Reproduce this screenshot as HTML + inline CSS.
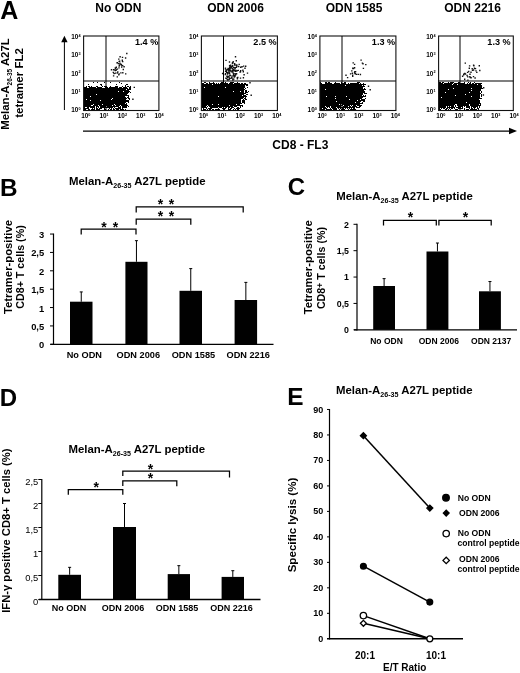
<!DOCTYPE html>
<html><head><meta charset="utf-8"><title>Figure</title>
<style>
html,body{margin:0;padding:0;background:#fff;}
body{width:520px;height:673px;overflow:hidden;font-family:'Liberation Sans', sans-serif;}
svg{display:block;will-change:transform;opacity:0.999;font-family:'Liberation Sans', sans-serif;fill:#000;}
</style></head><body>
<svg width="520" height="673" viewBox="0 0 520 673">
<rect x="0" y="0" width="520" height="673" fill="#fff"/>
<text x="0.2" y="18.9" font-size="25" font-weight="bold" text-anchor="start" >A</text>
<text x="118.3" y="12.3" font-size="12" font-weight="bold" text-anchor="middle" >No ODN</text>
<text x="235.5" y="12.3" font-size="12" font-weight="bold" text-anchor="middle" >ODN 2006</text>
<text x="354" y="12.3" font-size="12" font-weight="bold" text-anchor="middle" >ODN 1585</text>
<text x="472.6" y="12.3" font-size="12" font-weight="bold" text-anchor="middle" >ODN 2216</text>
<text transform="translate(9.3,84) rotate(-90)" font-size="11.4" font-weight="bold" text-anchor="middle">Melan-A<tspan font-size="6.5" dy="2.3">26-35</tspan><tspan dy="-2.3"> A27L</tspan></text>
<text transform="translate(23.2,83) rotate(-90)" font-size="11.5" font-weight="bold" text-anchor="middle">tetramer FL2</text>
<line x1="64.4" y1="110" x2="64.4" y2="41" stroke="#000" stroke-width="1" />
<polygon points="61.2,42.2 64.4,35.8 67.6,42.2" fill="#000"/>
<line x1="83" y1="131.2" x2="510" y2="131.2" stroke="#000" stroke-width="1.3" />
<polygon points="509,127.8 517,131 509,134.2" fill="#000"/>
<text x="272.3" y="149.3" font-size="12" font-weight="bold" text-anchor="start" >CD8 - FL3</text>
<path d="M93 82h1v1h-1zM97 82h1v1h-1zM104 82h1v1h-1zM110 82h1v1h-1zM119 82h1v1h-1zM121 83h1v1h-1zM88 84h1v1h-1zM100 84h2v1h-2zM116 84h1v1h-1zM126 84h2v1h-2zM101 85h1v1h-1zM125 85h1v1h-1zM86 86h1v1h-1zM88 86h2v1h-2zM91 86h1v1h-1zM96 86h2v1h-2zM102 86h1v1h-1zM104 86h3v1h-3zM110 86h1v1h-1zM115 86h3v1h-3zM122 86h1v1h-1zM125 86h1v1h-1zM127 86h2v1h-2zM130 86h1v1h-1zM84 87h3v1h-3zM89 87h7v1h-7zM97 87h5v1h-5zM105 87h3v1h-3zM109 87h9v1h-9zM119 87h3v1h-3zM123 87h4v1h-4zM129 87h2v1h-2zM84 88h44v1h-44zM129 88h2v1h-2zM84 89h42v1h-42zM127 89h4v1h-4zM84 90h45v1h-45zM84 91h34v1h-34zM119 91h4v1h-4zM124 91h6v1h-6zM84 92h45v1h-45zM130 92h1v1h-1zM84 93h44v1h-44zM84 94h12v1h-12zM97 94h30v1h-30zM84 95h45v1h-45zM84 96h6v1h-6zM91 96h34v1h-34zM128 96h1v1h-1zM84 97h42v1h-42zM127 97h2v1h-2zM84 98h28v1h-28zM113 98h14v1h-14zM128 98h2v1h-2zM84 99h2v1h-2zM87 99h24v1h-24zM112 99h14v1h-14zM129 99h1v1h-1zM84 100h6v1h-6zM91 100h9v1h-9zM101 100h28v1h-28zM84 101h45v1h-45zM84 102h42v1h-42zM128 102h1v1h-1zM84 103h41v1h-41zM126 103h1v1h-1zM84 104h9v1h-9zM94 104h8v1h-8zM103 104h11v1h-11zM115 104h12v1h-12zM84 105h7v1h-7zM93 105h5v1h-5zM99 105h13v1h-13zM113 105h2v1h-2zM116 105h4v1h-4zM121 105h7v1h-7zM84 106h11v1h-11zM96 106h3v1h-3zM100 106h6v1h-6zM107 106h12v1h-12zM120 106h1v1h-1zM122 106h5v1h-5zM128 106h1v1h-1zM84 107h1v1h-1zM87 107h2v1h-2zM90 107h5v1h-5zM96 107h1v1h-1zM98 107h1v1h-1zM100 107h13v1h-13zM114 107h1v1h-1zM118 107h3v1h-3zM122 107h5v1h-5zM84 108h5v1h-5zM92 108h1v1h-1zM94 108h1v1h-1zM96 108h2v1h-2zM99 108h3v1h-3zM104 108h1v1h-1zM109 108h1v1h-1zM111 108h1v1h-1zM113 108h1v1h-1zM115 108h6v1h-6zM122 108h1v1h-1zM84 109h2v1h-2zM88 109h2v1h-2zM91 109h4v1h-4zM96 109h4v1h-4zM104 109h2v1h-2zM108 109h1v1h-1zM110 109h2v1h-2zM113 109h2v1h-2zM116 109h3v1h-3zM120 109h4v1h-4zM125 109h1v1h-1z" fill="#000" shape-rendering="crispEdges"/>
<path d="M132.2 98.6h1.4v1.4h-1.4zM133.6 86.7h1.4v1.4h-1.4zM113.3 72.9h1.4v1.4h-1.4zM116.8 62.0h1.4v1.4h-1.4zM119.2 62.4h1.4v1.4h-1.4zM120.6 63.8h1.4v1.4h-1.4zM116.7 68.4h1.4v1.4h-1.4zM121.0 66.4h1.4v1.4h-1.4zM126.1 52.8h1.4v1.4h-1.4zM125.0 73.2h1.4v1.4h-1.4zM115.6 66.6h1.4v1.4h-1.4zM118.5 65.3h1.4v1.4h-1.4zM118.8 64.6h1.4v1.4h-1.4zM123.4 66.1h1.4v1.4h-1.4zM121.8 56.7h1.4v1.4h-1.4zM124.9 57.3h1.4v1.4h-1.4zM121.6 59.4h1.4v1.4h-1.4zM122.0 64.9h1.4v1.4h-1.4zM117.1 71.3h1.4v1.4h-1.4zM120.2 72.2h1.4v1.4h-1.4zM121.2 64.8h1.4v1.4h-1.4zM114.9 67.8h1.4v1.4h-1.4zM118.5 60.7h1.4v1.4h-1.4zM118.3 67.2h1.4v1.4h-1.4zM119.5 63.4h1.4v1.4h-1.4zM112.6 71.7h1.4v1.4h-1.4zM119.0 60.4h1.4v1.4h-1.4zM114.6 67.3h1.4v1.4h-1.4zM122.0 60.9h1.4v1.4h-1.4zM110.8 69.0h1.4v1.4h-1.4zM119.4 56.1h1.4v1.4h-1.4zM114.6 72.4h1.4v1.4h-1.4zM116.5 72.3h1.4v1.4h-1.4zM112.9 69.0h1.4v1.4h-1.4zM116.3 62.2h1.4v1.4h-1.4zM116.6 76.2h1.4v1.4h-1.4zM113.3 69.0h1.4v1.4h-1.4zM112.9 75.2h1.4v1.4h-1.4zM115.6 69.3h1.4v1.4h-1.4zM122.6 68.8h1.4v1.4h-1.4zM121.6 60.2h1.4v1.4h-1.4zM117.7 62.9h1.4v1.4h-1.4zM118.1 74.0h1.4v1.4h-1.4zM118.1 58.4h1.4v1.4h-1.4zM114.6 69.8h1.4v1.4h-1.4zM118.4 73.3h1.4v1.4h-1.4zM122.1 72.0h1.4v1.4h-1.4z" fill="#111"/>
<rect x="83.6" y="36" width="75.3" height="74.5" fill="none" stroke="#111" stroke-width="1.1"/>
<line x1="106" y1="36" x2="106" y2="110.5" stroke="#000" stroke-width="1.0" />
<line x1="83.6" y1="81.0" x2="158.89999999999998" y2="81.0" stroke="#000" stroke-width="1.05" />
<text x="158.29999999999998" y="45" font-size="9.1" font-weight="bold" text-anchor="end" >1.4 %</text>
<text x="71.3" y="112.1" font-size="6.4" font-weight="bold">10<tspan font-size="3.8" dy="-2.3">0</tspan></text>
<text x="81.2" y="118.4" font-size="6.4" font-weight="bold">10<tspan font-size="3.8" dy="-2.3">0</tspan></text>
<text x="71.3" y="93.8" font-size="6.4" font-weight="bold">10<tspan font-size="3.8" dy="-2.3">1</tspan></text>
<text x="99.5" y="118.4" font-size="6.4" font-weight="bold">10<tspan font-size="3.8" dy="-2.3">1</tspan></text>
<text x="71.3" y="75.5" font-size="6.4" font-weight="bold">10<tspan font-size="3.8" dy="-2.3">2</tspan></text>
<text x="117.8" y="118.4" font-size="6.4" font-weight="bold">10<tspan font-size="3.8" dy="-2.3">2</tspan></text>
<text x="71.3" y="57.2" font-size="6.4" font-weight="bold">10<tspan font-size="3.8" dy="-2.3">3</tspan></text>
<text x="136.1" y="118.4" font-size="6.4" font-weight="bold">10<tspan font-size="3.8" dy="-2.3">3</tspan></text>
<text x="71.3" y="38.9" font-size="6.4" font-weight="bold">10<tspan font-size="3.8" dy="-2.3">4</tspan></text>
<text x="154.4" y="118.4" font-size="6.4" font-weight="bold">10<tspan font-size="3.8" dy="-2.3">4</tspan></text>
<path d="M204 82h2v1h-2zM209 82h1v1h-1zM213 82h1v1h-1zM221 82h3v1h-3zM225 82h1v1h-1zM230 82h4v1h-4zM237 82h1v1h-1zM202 83h2v1h-2zM206 83h2v1h-2zM209 83h6v1h-6zM216 83h1v1h-1zM218 83h1v1h-1zM220 83h8v1h-8zM229 83h4v1h-4zM234 83h6v1h-6zM241 83h2v1h-2zM244 83h2v1h-2zM202 84h10v1h-10zM213 84h35v1h-35zM202 85h43v1h-43zM246 85h2v1h-2zM202 86h43v1h-43zM202 87h2v1h-2zM205 87h20v1h-20zM226 87h19v1h-19zM247 87h1v1h-1zM202 88h42v1h-42zM245 88h1v1h-1zM202 89h43v1h-43zM202 90h42v1h-42zM245 90h2v1h-2zM202 91h21v1h-21zM224 91h9v1h-9zM234 91h6v1h-6zM241 91h3v1h-3zM245 91h2v1h-2zM248 91h1v1h-1zM202 92h42v1h-42zM245 92h3v1h-3zM202 93h44v1h-44zM202 94h42v1h-42zM246 94h2v1h-2zM202 95h40v1h-40zM243 95h3v1h-3zM202 96h16v1h-16zM219 96h28v1h-28zM202 97h42v1h-42zM245 97h1v1h-1zM202 98h21v1h-21zM224 98h19v1h-19zM244 98h2v1h-2zM202 99h39v1h-39zM243 99h1v1h-1zM245 99h2v1h-2zM202 100h39v1h-39zM242 100h3v1h-3zM202 101h39v1h-39zM242 101h3v1h-3zM202 102h39v1h-39zM242 102h3v1h-3zM202 103h40v1h-40zM244 103h1v1h-1zM202 104h10v1h-10zM213 104h5v1h-5zM219 104h17v1h-17zM237 104h3v1h-3zM202 105h5v1h-5zM208 105h21v1h-21zM230 105h13v1h-13zM202 106h4v1h-4zM207 106h1v1h-1zM209 106h24v1h-24zM234 106h3v1h-3zM240 106h1v1h-1zM242 106h1v1h-1zM202 107h5v1h-5zM210 107h8v1h-8zM219 107h3v1h-3zM225 107h2v1h-2zM228 107h2v1h-2zM231 107h3v1h-3zM237 107h2v1h-2zM240 107h1v1h-1zM203 108h1v1h-1zM206 108h1v1h-1zM208 108h4v1h-4zM218 108h1v1h-1zM222 108h1v1h-1zM224 108h2v1h-2zM228 108h1v1h-1zM230 108h2v1h-2zM234 108h1v1h-1zM236 108h4v1h-4zM203 109h3v1h-3zM207 109h1v1h-1zM209 109h2v1h-2zM212 109h2v1h-2zM215 109h5v1h-5zM224 109h1v1h-1zM228 109h3v1h-3zM233 109h1v1h-1zM235 109h1v1h-1zM237 109h2v1h-2z" fill="#000" shape-rendering="crispEdges"/>
<path d="M249.3 82.1h1.4v1.4h-1.4zM250.5 94.6h1.4v1.4h-1.4zM225.8 70.9h1.4v1.4h-1.4zM226.8 78.5h1.4v1.4h-1.4zM231.7 65.9h1.4v1.4h-1.4zM233.0 66.7h1.4v1.4h-1.4zM228.6 72.3h1.4v1.4h-1.4zM231.7 67.7h1.4v1.4h-1.4zM229.7 65.9h1.4v1.4h-1.4zM230.5 65.6h1.4v1.4h-1.4zM238.5 63.7h1.4v1.4h-1.4zM243.4 74.0h1.4v1.4h-1.4zM228.7 68.1h1.4v1.4h-1.4zM231.0 76.9h1.4v1.4h-1.4zM227.9 69.4h1.4v1.4h-1.4zM228.2 76.1h1.4v1.4h-1.4zM227.2 76.0h1.4v1.4h-1.4zM233.2 75.0h1.4v1.4h-1.4zM239.8 77.4h1.4v1.4h-1.4zM236.2 65.7h1.4v1.4h-1.4zM225.7 69.2h1.4v1.4h-1.4zM233.1 78.4h1.4v1.4h-1.4zM228.8 61.3h1.4v1.4h-1.4zM234.1 63.6h1.4v1.4h-1.4zM228.9 77.6h1.4v1.4h-1.4zM230.2 67.2h1.4v1.4h-1.4zM231.4 69.7h1.4v1.4h-1.4zM228.8 67.9h1.4v1.4h-1.4zM235.6 60.1h1.4v1.4h-1.4zM232.2 62.1h1.4v1.4h-1.4zM226.9 69.0h1.4v1.4h-1.4zM240.0 69.9h1.4v1.4h-1.4zM228.3 68.4h1.4v1.4h-1.4zM234.4 73.1h1.4v1.4h-1.4zM242.6 71.0h1.4v1.4h-1.4zM232.3 68.8h1.4v1.4h-1.4zM241.4 66.1h1.4v1.4h-1.4zM226.5 78.4h1.4v1.4h-1.4zM224.6 73.8h1.4v1.4h-1.4zM236.2 65.5h1.4v1.4h-1.4zM235.8 66.5h1.4v1.4h-1.4zM246.8 72.4h1.4v1.4h-1.4zM231.8 62.0h1.4v1.4h-1.4zM233.6 75.0h1.4v1.4h-1.4zM235.6 64.5h1.4v1.4h-1.4zM238.0 65.8h1.4v1.4h-1.4zM227.5 67.7h1.4v1.4h-1.4zM221.9 72.7h1.4v1.4h-1.4zM233.0 73.6h1.4v1.4h-1.4zM228.9 65.0h1.4v1.4h-1.4zM239.8 71.2h1.4v1.4h-1.4zM225.3 59.7h1.4v1.4h-1.4zM236.5 70.0h1.4v1.4h-1.4zM244.3 67.5h1.4v1.4h-1.4zM230.5 71.2h1.4v1.4h-1.4zM234.5 67.1h1.4v1.4h-1.4zM232.0 65.1h1.4v1.4h-1.4zM228.7 68.6h1.4v1.4h-1.4zM245.0 65.6h1.4v1.4h-1.4zM236.1 64.2h1.4v1.4h-1.4zM230.1 74.9h1.4v1.4h-1.4zM225.4 69.6h1.4v1.4h-1.4zM231.3 76.3h1.4v1.4h-1.4zM227.3 76.4h1.4v1.4h-1.4zM232.1 71.3h1.4v1.4h-1.4zM233.9 76.0h1.4v1.4h-1.4zM243.0 65.4h1.4v1.4h-1.4zM227.2 75.5h1.4v1.4h-1.4zM234.7 70.6h1.4v1.4h-1.4zM239.4 71.3h1.4v1.4h-1.4zM226.8 73.4h1.4v1.4h-1.4zM227.1 72.8h1.4v1.4h-1.4zM231.7 62.9h1.4v1.4h-1.4zM233.5 76.3h1.4v1.4h-1.4zM224.8 67.4h1.4v1.4h-1.4zM227.6 69.2h1.4v1.4h-1.4zM229.0 73.2h1.4v1.4h-1.4zM231.4 70.8h1.4v1.4h-1.4zM228.4 78.7h1.4v1.4h-1.4zM229.8 64.6h1.4v1.4h-1.4zM229.9 67.4h1.4v1.4h-1.4zM233.9 63.0h1.4v1.4h-1.4zM235.9 73.1h1.4v1.4h-1.4zM225.2 77.5h1.4v1.4h-1.4zM229.0 66.8h1.4v1.4h-1.4zM226.9 76.7h1.4v1.4h-1.4zM224.9 72.9h1.4v1.4h-1.4zM232.2 79.4h1.4v1.4h-1.4zM229.0 69.3h1.4v1.4h-1.4zM240.0 66.6h1.4v1.4h-1.4zM232.4 74.8h1.4v1.4h-1.4zM233.1 68.4h1.4v1.4h-1.4zM234.4 70.3h1.4v1.4h-1.4zM228.3 71.2h1.4v1.4h-1.4zM235.0 74.2h1.4v1.4h-1.4zM221.9 72.8h1.4v1.4h-1.4zM235.0 69.4h1.4v1.4h-1.4zM229.1 74.9h1.4v1.4h-1.4zM228.2 70.6h1.4v1.4h-1.4zM226.9 71.9h1.4v1.4h-1.4zM235.2 70.7h1.4v1.4h-1.4zM225.7 69.8h1.4v1.4h-1.4zM227.2 79.4h1.4v1.4h-1.4zM229.7 74.7h1.4v1.4h-1.4zM242.2 69.6h1.4v1.4h-1.4zM237.6 69.7h1.4v1.4h-1.4zM232.6 72.7h1.4v1.4h-1.4zM232.4 70.2h1.4v1.4h-1.4zM230.4 77.7h1.4v1.4h-1.4zM234.8 56.1h1.4v1.4h-1.4zM242.7 77.0h1.4v1.4h-1.4zM234.4 67.5h1.4v1.4h-1.4zM228.8 78.2h1.4v1.4h-1.4zM230.9 71.2h1.4v1.4h-1.4zM234.4 75.4h1.4v1.4h-1.4zM236.6 77.0h1.4v1.4h-1.4zM229.7 70.1h1.4v1.4h-1.4zM232.1 78.3h1.4v1.4h-1.4zM224.7 68.1h1.4v1.4h-1.4zM232.5 61.1h1.4v1.4h-1.4zM236.7 78.2h1.4v1.4h-1.4zM226.2 75.6h1.4v1.4h-1.4zM225.5 77.6h1.4v1.4h-1.4zM225.9 71.6h1.4v1.4h-1.4zM226.8 68.7h1.4v1.4h-1.4zM224.9 70.7h1.4v1.4h-1.4zM230.6 66.8h1.4v1.4h-1.4zM233.7 69.6h1.4v1.4h-1.4zM233.7 74.9h1.4v1.4h-1.4zM229.3 68.6h1.4v1.4h-1.4zM237.1 76.8h1.4v1.4h-1.4zM234.0 64.4h1.4v1.4h-1.4z" fill="#111"/>
<rect x="201.4" y="36" width="76" height="74.5" fill="none" stroke="#111" stroke-width="1.1"/>
<line x1="223.5" y1="36" x2="223.5" y2="110.5" stroke="#000" stroke-width="1.0" />
<line x1="201.4" y1="81.0" x2="277.4" y2="81.0" stroke="#000" stroke-width="1.05" />
<text x="276.59999999999997" y="45" font-size="9.1" font-weight="bold" text-anchor="end" >2.5 %</text>
<text x="189.1" y="112.1" font-size="6.4" font-weight="bold">10<tspan font-size="3.8" dy="-2.3">0</tspan></text>
<text x="199.0" y="118.4" font-size="6.4" font-weight="bold">10<tspan font-size="3.8" dy="-2.3">0</tspan></text>
<text x="189.1" y="93.8" font-size="6.4" font-weight="bold">10<tspan font-size="3.8" dy="-2.3">1</tspan></text>
<text x="217.3" y="118.4" font-size="6.4" font-weight="bold">10<tspan font-size="3.8" dy="-2.3">1</tspan></text>
<text x="189.1" y="75.5" font-size="6.4" font-weight="bold">10<tspan font-size="3.8" dy="-2.3">2</tspan></text>
<text x="235.6" y="118.4" font-size="6.4" font-weight="bold">10<tspan font-size="3.8" dy="-2.3">2</tspan></text>
<text x="189.1" y="57.2" font-size="6.4" font-weight="bold">10<tspan font-size="3.8" dy="-2.3">3</tspan></text>
<text x="253.9" y="118.4" font-size="6.4" font-weight="bold">10<tspan font-size="3.8" dy="-2.3">3</tspan></text>
<text x="189.1" y="38.9" font-size="6.4" font-weight="bold">10<tspan font-size="3.8" dy="-2.3">4</tspan></text>
<text x="272.2" y="118.4" font-size="6.4" font-weight="bold">10<tspan font-size="3.8" dy="-2.3">4</tspan></text>
<path d="M320 82h1v1h-1zM325 82h2v1h-2zM328 82h2v1h-2zM335 82h1v1h-1zM341 82h1v1h-1zM344 82h2v1h-2zM357 82h3v1h-3zM320 83h2v1h-2zM325 83h7v1h-7zM334 83h6v1h-6zM341 83h5v1h-5zM348 83h1v1h-1zM350 83h9v1h-9zM360 83h1v1h-1zM363 83h1v1h-1zM320 84h46v1h-46zM320 85h25v1h-25zM346 85h16v1h-16zM363 85h1v1h-1zM320 86h45v1h-45zM320 87h43v1h-43zM320 88h43v1h-43zM364 88h1v1h-1zM320 89h5v1h-5zM326 89h40v1h-40zM320 90h44v1h-44zM320 91h45v1h-45zM320 92h45v1h-45zM320 93h43v1h-43zM364 93h3v1h-3zM320 94h43v1h-43zM320 95h42v1h-42zM363 95h1v1h-1zM365 95h1v1h-1zM320 96h6v1h-6zM327 96h8v1h-8zM336 96h10v1h-10zM347 96h19v1h-19zM320 97h43v1h-43zM320 98h15v1h-15zM336 98h26v1h-26zM365 98h1v1h-1zM320 99h29v1h-29zM350 99h10v1h-10zM361 99h4v1h-4zM320 100h37v1h-37zM358 100h7v1h-7zM320 101h16v1h-16zM337 101h24v1h-24zM363 101h2v1h-2zM320 102h35v1h-35zM356 102h4v1h-4zM362 102h1v1h-1zM320 103h43v1h-43zM320 104h19v1h-19zM340 104h1v1h-1zM342 104h18v1h-18zM320 105h23v1h-23zM344 105h6v1h-6zM351 105h1v1h-1zM353 105h3v1h-3zM357 105h5v1h-5zM320 106h5v1h-5zM326 106h4v1h-4zM331 106h10v1h-10zM343 106h5v1h-5zM349 106h2v1h-2zM352 106h5v1h-5zM359 106h2v1h-2zM320 107h6v1h-6zM327 107h1v1h-1zM329 107h1v1h-1zM331 107h5v1h-5zM337 107h18v1h-18zM356 107h4v1h-4zM320 108h2v1h-2zM323 108h4v1h-4zM330 108h1v1h-1zM332 108h5v1h-5zM338 108h1v1h-1zM340 108h1v1h-1zM342 108h2v1h-2zM345 108h1v1h-1zM347 108h1v1h-1zM349 108h1v1h-1zM351 108h1v1h-1zM353 108h2v1h-2zM320 109h5v1h-5zM326 109h6v1h-6zM333 109h4v1h-4zM339 109h1v1h-1zM341 109h4v1h-4zM348 109h1v1h-1zM350 109h6v1h-6z" fill="#000" shape-rendering="crispEdges"/>
<path d="M367.8 85.6h1.4v1.4h-1.4zM369.5 89.1h1.4v1.4h-1.4zM354.7 73.1h1.4v1.4h-1.4zM352.7 67.7h1.4v1.4h-1.4zM360.4 59.4h1.4v1.4h-1.4zM354.4 72.9h1.4v1.4h-1.4zM353.9 67.1h1.4v1.4h-1.4zM361.7 62.4h1.4v1.4h-1.4zM354.9 70.9h1.4v1.4h-1.4zM352.9 67.8h1.4v1.4h-1.4zM352.1 67.5h1.4v1.4h-1.4zM353.9 72.1h1.4v1.4h-1.4zM346.9 76.9h1.4v1.4h-1.4zM352.0 75.6h1.4v1.4h-1.4zM357.6 73.7h1.4v1.4h-1.4zM353.9 63.7h1.4v1.4h-1.4zM351.1 70.2h1.4v1.4h-1.4zM354.7 71.0h1.4v1.4h-1.4zM365.1 63.9h1.4v1.4h-1.4zM352.5 62.2h1.4v1.4h-1.4zM349.9 73.2h1.4v1.4h-1.4zM351.7 72.5h1.4v1.4h-1.4zM352.2 67.9h1.4v1.4h-1.4zM359.7 73.8h1.4v1.4h-1.4zM362.7 67.7h1.4v1.4h-1.4zM355.8 73.7h1.4v1.4h-1.4zM362.3 63.0h1.4v1.4h-1.4zM352.0 74.6h1.4v1.4h-1.4zM345.3 74.6h1.4v1.4h-1.4zM354.1 71.0h1.4v1.4h-1.4z" fill="#111"/>
<rect x="319.9" y="36" width="76" height="74.5" fill="none" stroke="#111" stroke-width="1.1"/>
<line x1="342" y1="36" x2="342" y2="110.5" stroke="#000" stroke-width="1.0" />
<line x1="319.9" y1="81.0" x2="395.9" y2="81.0" stroke="#000" stroke-width="1.05" />
<text x="395.09999999999997" y="45" font-size="9.1" font-weight="bold" text-anchor="end" >1.3 %</text>
<text x="307.59999999999997" y="112.1" font-size="6.4" font-weight="bold">10<tspan font-size="3.8" dy="-2.3">0</tspan></text>
<text x="317.5" y="118.4" font-size="6.4" font-weight="bold">10<tspan font-size="3.8" dy="-2.3">0</tspan></text>
<text x="307.59999999999997" y="93.8" font-size="6.4" font-weight="bold">10<tspan font-size="3.8" dy="-2.3">1</tspan></text>
<text x="335.8" y="118.4" font-size="6.4" font-weight="bold">10<tspan font-size="3.8" dy="-2.3">1</tspan></text>
<text x="307.59999999999997" y="75.5" font-size="6.4" font-weight="bold">10<tspan font-size="3.8" dy="-2.3">2</tspan></text>
<text x="354.1" y="118.4" font-size="6.4" font-weight="bold">10<tspan font-size="3.8" dy="-2.3">2</tspan></text>
<text x="307.59999999999997" y="57.2" font-size="6.4" font-weight="bold">10<tspan font-size="3.8" dy="-2.3">3</tspan></text>
<text x="372.4" y="118.4" font-size="6.4" font-weight="bold">10<tspan font-size="3.8" dy="-2.3">3</tspan></text>
<text x="307.59999999999997" y="38.9" font-size="6.4" font-weight="bold">10<tspan font-size="3.8" dy="-2.3">4</tspan></text>
<text x="390.7" y="118.4" font-size="6.4" font-weight="bold">10<tspan font-size="3.8" dy="-2.3">4</tspan></text>
<path d="M439 82h2v1h-2zM442 82h2v1h-2zM448 82h1v1h-1zM450 82h4v1h-4zM458 82h2v1h-2zM464 82h1v1h-1zM468 82h1v1h-1zM470 82h1v1h-1zM474 82h1v1h-1zM439 83h4v1h-4zM444 83h9v1h-9zM454 83h11v1h-11zM467 83h1v1h-1zM469 83h2v1h-2zM472 83h2v1h-2zM475 83h7v1h-7zM439 84h13v1h-13zM453 84h4v1h-4zM458 84h19v1h-19zM478 84h3v1h-3zM439 85h43v1h-43zM439 86h43v1h-43zM439 87h43v1h-43zM439 88h14v1h-14zM454 88h17v1h-17zM472 88h11v1h-11zM439 89h9v1h-9zM449 89h32v1h-32zM439 90h32v1h-32zM472 90h9v1h-9zM439 91h41v1h-41zM481 91h1v1h-1zM439 92h6v1h-6zM446 92h23v1h-23zM470 92h10v1h-10zM481 92h1v1h-1zM439 93h42v1h-42zM439 94h26v1h-26zM466 94h14v1h-14zM481 94h1v1h-1zM439 95h16v1h-16zM456 95h24v1h-24zM481 95h1v1h-1zM439 96h32v1h-32zM472 96h8v1h-8zM481 96h1v1h-1zM439 97h2v1h-2zM442 97h38v1h-38zM439 98h43v1h-43zM439 99h40v1h-40zM439 100h41v1h-41zM439 101h41v1h-41zM439 102h27v1h-27zM467 102h13v1h-13zM439 103h42v1h-42zM439 104h16v1h-16zM457 104h12v1h-12zM470 104h9v1h-9zM480 104h1v1h-1zM439 105h15v1h-15zM455 105h1v1h-1zM457 105h12v1h-12zM470 105h11v1h-11zM439 106h7v1h-7zM447 106h1v1h-1zM449 106h1v1h-1zM451 106h3v1h-3zM455 106h1v1h-1zM458 106h5v1h-5zM464 106h1v1h-1zM466 106h4v1h-4zM471 106h7v1h-7zM479 106h1v1h-1zM439 107h7v1h-7zM447 107h8v1h-8zM456 107h5v1h-5zM462 107h1v1h-1zM466 107h4v1h-4zM471 107h1v1h-1zM473 107h3v1h-3zM477 107h1v1h-1zM479 107h1v1h-1zM439 108h1v1h-1zM441 108h1v1h-1zM443 108h2v1h-2zM446 108h2v1h-2zM449 108h1v1h-1zM451 108h2v1h-2zM454 108h1v1h-1zM458 108h5v1h-5zM464 108h1v1h-1zM469 108h1v1h-1zM471 108h2v1h-2zM474 108h1v1h-1zM477 108h2v1h-2zM439 109h2v1h-2zM445 109h2v1h-2zM448 109h1v1h-1zM450 109h1v1h-1zM455 109h3v1h-3zM464 109h1v1h-1zM466 109h3v1h-3zM470 109h7v1h-7zM478 109h1v1h-1z" fill="#000" shape-rendering="crispEdges"/>
<path d="M482.7 94.3h1.4v1.4h-1.4zM483.0 87.0h1.4v1.4h-1.4zM478.6 65.1h1.4v1.4h-1.4zM474.4 77.3h1.4v1.4h-1.4zM464.1 72.8h1.4v1.4h-1.4zM469.1 76.0h1.4v1.4h-1.4zM464.0 78.6h1.4v1.4h-1.4zM463.5 73.1h1.4v1.4h-1.4zM470.3 71.6h1.4v1.4h-1.4zM479.1 69.8h1.4v1.4h-1.4zM476.1 71.7h1.4v1.4h-1.4zM469.3 73.5h1.4v1.4h-1.4zM471.8 69.6h1.4v1.4h-1.4zM466.9 71.7h1.4v1.4h-1.4zM467.1 76.2h1.4v1.4h-1.4zM468.0 70.8h1.4v1.4h-1.4zM470.4 77.0h1.4v1.4h-1.4zM464.8 73.3h1.4v1.4h-1.4zM461.9 75.5h1.4v1.4h-1.4zM468.6 67.5h1.4v1.4h-1.4zM472.9 69.3h1.4v1.4h-1.4zM463.0 74.0h1.4v1.4h-1.4zM469.6 76.8h1.4v1.4h-1.4zM475.3 70.2h1.4v1.4h-1.4zM472.8 75.9h1.4v1.4h-1.4zM471.5 67.9h1.4v1.4h-1.4zM474.8 67.9h1.4v1.4h-1.4zM464.6 62.4h1.4v1.4h-1.4zM473.8 67.6h1.4v1.4h-1.4zM467.2 79.4h1.4v1.4h-1.4zM466.4 74.8h1.4v1.4h-1.4zM472.9 64.6h1.4v1.4h-1.4zM468.9 65.2h1.4v1.4h-1.4zM473.2 65.0h1.4v1.4h-1.4z" fill="#111"/>
<rect x="438.6" y="36" width="74.7" height="74.5" fill="none" stroke="#111" stroke-width="1.1"/>
<line x1="460" y1="36" x2="460" y2="110.5" stroke="#000" stroke-width="1.0" />
<line x1="438.6" y1="81.0" x2="513.3000000000001" y2="81.0" stroke="#000" stroke-width="1.05" />
<text x="510.6000000000001" y="45" font-size="9.1" font-weight="bold" text-anchor="end" >1.3 %</text>
<text x="426.3" y="112.1" font-size="6.4" font-weight="bold">10<tspan font-size="3.8" dy="-2.3">0</tspan></text>
<text x="436.2" y="118.4" font-size="6.4" font-weight="bold">10<tspan font-size="3.8" dy="-2.3">0</tspan></text>
<text x="426.3" y="93.8" font-size="6.4" font-weight="bold">10<tspan font-size="3.8" dy="-2.3">1</tspan></text>
<text x="454.5" y="118.4" font-size="6.4" font-weight="bold">10<tspan font-size="3.8" dy="-2.3">1</tspan></text>
<text x="426.3" y="75.5" font-size="6.4" font-weight="bold">10<tspan font-size="3.8" dy="-2.3">2</tspan></text>
<text x="472.8" y="118.4" font-size="6.4" font-weight="bold">10<tspan font-size="3.8" dy="-2.3">2</tspan></text>
<text x="426.3" y="57.2" font-size="6.4" font-weight="bold">10<tspan font-size="3.8" dy="-2.3">3</tspan></text>
<text x="491.1" y="118.4" font-size="6.4" font-weight="bold">10<tspan font-size="3.8" dy="-2.3">3</tspan></text>
<text x="426.3" y="38.9" font-size="6.4" font-weight="bold">10<tspan font-size="3.8" dy="-2.3">4</tspan></text>
<text x="509.4" y="118.4" font-size="6.4" font-weight="bold">10<tspan font-size="3.8" dy="-2.3">4</tspan></text>
<text x="0" y="195.5" font-size="24.3" font-weight="bold" text-anchor="start" >B</text>
<text x="69" y="184.8" font-size="11.4" font-weight="bold" text-anchor="start" >Melan-A<tspan font-size="7.1" dy="3.0">26-35</tspan><tspan dy="-3.0"> A27L peptide</tspan></text>
<text transform="translate(11.8,267) rotate(-90)" font-size="11.3" font-weight="bold" text-anchor="middle">Tetramer-positive</text>
<text transform="translate(24,267) rotate(-90)" font-size="10.7" font-weight="bold" text-anchor="middle">CD8+ T cells (%)</text>
<line x1="53.5" y1="233.55" x2="53.5" y2="344.90000000000003" stroke="#000" stroke-width="1.2" />
<line x1="50.5" y1="344.3" x2="273.5" y2="344.3" stroke="#000" stroke-width="1.3" />
<line x1="50.0" y1="344.3" x2="53.5" y2="344.3" stroke="#000" stroke-width="1" />
<text x="44.2" y="348.3" font-size="9.4" font-weight="bold" text-anchor="end" >0</text>
<line x1="50.0" y1="325.925" x2="53.5" y2="325.925" stroke="#000" stroke-width="1" />
<text x="44.2" y="329.9" font-size="9.4" font-weight="bold" text-anchor="end" >0,5</text>
<line x1="50.0" y1="307.55" x2="53.5" y2="307.55" stroke="#000" stroke-width="1" />
<text x="44.2" y="311.6" font-size="9.4" font-weight="bold" text-anchor="end" >1</text>
<line x1="50.0" y1="289.175" x2="53.5" y2="289.175" stroke="#000" stroke-width="1" />
<text x="44.2" y="293.2" font-size="9.4" font-weight="bold" text-anchor="end" >1,5</text>
<line x1="50.0" y1="270.8" x2="53.5" y2="270.8" stroke="#000" stroke-width="1" />
<text x="44.2" y="274.8" font-size="9.4" font-weight="bold" text-anchor="end" >2</text>
<line x1="50.0" y1="252.425" x2="53.5" y2="252.425" stroke="#000" stroke-width="1" />
<text x="44.2" y="256.4" font-size="9.4" font-weight="bold" text-anchor="end" >2,5</text>
<line x1="50.0" y1="234.05" x2="53.5" y2="234.05" stroke="#000" stroke-width="1" />
<text x="44.2" y="238.1" font-size="9.4" font-weight="bold" text-anchor="end" >3</text>
<rect x="70" y="301.7" width="22.5" height="42.6" fill="#000" stroke="none" stroke-width="1"/>
<line x1="81.25" y1="301.74350000000004" x2="81.25" y2="291.93125000000003" stroke="#000" stroke-width="1" />
<line x1="79.75" y1="291.93125000000003" x2="82.75" y2="291.93125000000003" stroke="#000" stroke-width="1" />
<rect x="125.4" y="261.8" width="22.099999999999994" height="82.5" fill="#000" stroke="none" stroke-width="1"/>
<line x1="136.45" y1="261.79625" x2="136.45" y2="240.66500000000002" stroke="#000" stroke-width="1" />
<line x1="134.95" y1="240.66500000000002" x2="137.95" y2="240.66500000000002" stroke="#000" stroke-width="1" />
<rect x="179.5" y="290.8" width="22.5" height="53.5" fill="#000" stroke="none" stroke-width="1"/>
<line x1="190.75" y1="290.82875" x2="190.75" y2="268.595" stroke="#000" stroke-width="1" />
<line x1="189.25" y1="268.595" x2="192.25" y2="268.595" stroke="#000" stroke-width="1" />
<rect x="234.6" y="300.0" width="22.50000000000003" height="44.3" fill="#000" stroke="none" stroke-width="1"/>
<line x1="245.85000000000002" y1="300.01625" x2="245.85000000000002" y2="282.37625" stroke="#000" stroke-width="1" />
<line x1="244.35000000000002" y1="282.37625" x2="247.35000000000002" y2="282.37625" stroke="#000" stroke-width="1" />
<text x="84.3" y="358.2" font-size="9.2" font-weight="bold" text-anchor="middle" >No ODN</text>
<text x="138.3" y="358.2" font-size="9.2" font-weight="bold" text-anchor="middle" >ODN 2006</text>
<text x="193.4" y="358.2" font-size="9.2" font-weight="bold" text-anchor="middle" >ODN 1585</text>
<text x="248.2" y="358.2" font-size="9.2" font-weight="bold" text-anchor="middle" >ODN 2216</text>
<polyline points="81.2,234.4 81.2,229.2 136,229.2 136,234.4" fill="none" stroke="#000" stroke-width="1.25"/>
<polyline points="136.2,224.8 136.2,219.1 190.8,219.1 190.8,224.8" fill="none" stroke="#000" stroke-width="1.25"/>
<polyline points="136.2,212.5 136.2,206.9 243.2,206.9 243.2,212.5" fill="none" stroke="#000" stroke-width="1.25"/>
<text x="104" y="232" font-size="14" font-weight="bold" text-anchor="middle" >*</text>
<text x="115.6" y="232" font-size="14" font-weight="bold" text-anchor="middle" >*</text>
<text x="160.4" y="209.2" font-size="14" font-weight="bold" text-anchor="middle" >*</text>
<text x="160.4" y="221.3" font-size="14" font-weight="bold" text-anchor="middle" >*</text>
<text x="171.5" y="209.2" font-size="14" font-weight="bold" text-anchor="middle" >*</text>
<text x="171.5" y="221.3" font-size="14" font-weight="bold" text-anchor="middle" >*</text>
<text x="287.8" y="194.6" font-size="24" font-weight="bold" text-anchor="start" >C</text>
<text x="336.3" y="199.6" font-size="11.4" font-weight="bold" text-anchor="start" >Melan-A<tspan font-size="7.1" dy="3.0">26-35</tspan><tspan dy="-3.0"> A27L peptide</tspan></text>
<text transform="translate(312.3,267.3) rotate(-90)" font-size="11.3" font-weight="bold" text-anchor="middle">Tetramer-positive</text>
<text transform="translate(325,268) rotate(-90)" font-size="10.7" font-weight="bold" text-anchor="middle">CD8<tspan font-size="8.5" dy="-2.5">+</tspan><tspan dy="2.5"> T cells (%)</tspan></text>
<line x1="357" y1="223.8" x2="357" y2="330.40000000000003" stroke="#000" stroke-width="1.2" />
<line x1="354" y1="329.8" x2="517" y2="329.8" stroke="#000" stroke-width="1.3" />
<line x1="353.5" y1="329.8" x2="357" y2="329.8" stroke="#000" stroke-width="1" />
<text x="349" y="333.0" font-size="8.8" font-weight="bold" text-anchor="end" >0</text>
<line x1="353.5" y1="303.425" x2="357" y2="303.425" stroke="#000" stroke-width="1" />
<text x="349" y="306.6" font-size="8.8" font-weight="bold" text-anchor="end" >0,5</text>
<line x1="353.5" y1="277.05" x2="357" y2="277.05" stroke="#000" stroke-width="1" />
<text x="349" y="280.2" font-size="8.8" font-weight="bold" text-anchor="end" >1</text>
<line x1="353.5" y1="250.675" x2="357" y2="250.675" stroke="#000" stroke-width="1" />
<text x="349" y="253.9" font-size="8.8" font-weight="bold" text-anchor="end" >1,5</text>
<line x1="353.5" y1="224.3" x2="357" y2="224.3" stroke="#000" stroke-width="1" />
<text x="349" y="227.5" font-size="8.8" font-weight="bold" text-anchor="end" >2</text>
<rect x="373.2" y="286.0" width="21.80000000000001" height="43.8" fill="#000" stroke="none" stroke-width="1"/>
<line x1="384.1" y1="286.01750000000004" x2="384.1" y2="278.6325" stroke="#000" stroke-width="1" />
<line x1="382.6" y1="278.6325" x2="385.6" y2="278.6325" stroke="#000" stroke-width="1" />
<rect x="426.5" y="251.5" width="21.899999999999977" height="78.3" fill="#000" stroke="none" stroke-width="1"/>
<line x1="437.45" y1="251.46625" x2="437.45" y2="243.02625" stroke="#000" stroke-width="1" />
<line x1="435.95" y1="243.02625" x2="438.95" y2="243.02625" stroke="#000" stroke-width="1" />
<rect x="479" y="291.3" width="21.899999999999977" height="38.5" fill="#000" stroke="none" stroke-width="1"/>
<line x1="489.95" y1="291.2925" x2="489.95" y2="281.53375" stroke="#000" stroke-width="1" />
<line x1="488.45" y1="281.53375" x2="491.45" y2="281.53375" stroke="#000" stroke-width="1" />
<text x="386.5" y="343.5" font-size="8.5" font-weight="bold" text-anchor="middle" >No ODN</text>
<text x="438.8" y="343.5" font-size="8.5" font-weight="bold" text-anchor="middle" >ODN 2006</text>
<text x="491.2" y="343.5" font-size="8.5" font-weight="bold" text-anchor="middle" >ODN 2137</text>
<polyline points="383.5,225.5 383.5,220.3 436.3,220.3 436.3,225.5" fill="none" stroke="#000" stroke-width="1.25"/>
<polyline points="438.9,225.5 438.9,220.3 491.2,220.3 491.2,225.5" fill="none" stroke="#000" stroke-width="1.25"/>
<text x="410.5" y="222" font-size="14" font-weight="bold" text-anchor="middle" >*</text>
<text x="465.4" y="222" font-size="14" font-weight="bold" text-anchor="middle" >*</text>
<text x="-0.3" y="406.4" font-size="24" font-weight="bold" text-anchor="start" >D</text>
<text x="68.5" y="452.6" font-size="11.4" font-weight="bold" text-anchor="start" >Melan-A<tspan font-size="7.1" dy="3.0">26-35</tspan><tspan dy="-3.0"> A27L peptide</tspan></text>
<text transform="translate(10.3,530.7) rotate(-90)" font-size="11.22" font-weight="bold" text-anchor="middle">IFN-γ positive CD8+ T cells (%)</text>
<line x1="41.8" y1="479.0" x2="41.8" y2="600.1" stroke="#000" stroke-width="1.2" />
<line x1="38.8" y1="599.5" x2="260.5" y2="599.5" stroke="#000" stroke-width="1.3" />
<line x1="38.3" y1="599.5" x2="41.8" y2="599.5" stroke="#000" stroke-width="1" />
<text x="38.3" y="604.8" font-size="9.4" font-weight="normal" text-anchor="end" >0</text>
<line x1="38.3" y1="575.5" x2="41.8" y2="575.5" stroke="#000" stroke-width="1" />
<text x="38.3" y="580.8" font-size="9.4" font-weight="normal" text-anchor="end" >0,5</text>
<line x1="38.3" y1="551.5" x2="41.8" y2="551.5" stroke="#000" stroke-width="1" />
<text x="38.3" y="556.8" font-size="9.4" font-weight="normal" text-anchor="end" >1</text>
<line x1="38.3" y1="527.5" x2="41.8" y2="527.5" stroke="#000" stroke-width="1" />
<text x="38.3" y="532.8" font-size="9.4" font-weight="normal" text-anchor="end" >1,5</text>
<line x1="38.3" y1="503.5" x2="41.8" y2="503.5" stroke="#000" stroke-width="1" />
<text x="38.3" y="508.8" font-size="9.4" font-weight="normal" text-anchor="end" >2</text>
<line x1="38.3" y1="479.5" x2="41.8" y2="479.5" stroke="#000" stroke-width="1" />
<text x="38.3" y="484.8" font-size="9.4" font-weight="normal" text-anchor="end" >2,5</text>
<rect x="58.3" y="574.8" width="22.700000000000003" height="24.7" fill="#000" stroke="none" stroke-width="1"/>
<line x1="69.65" y1="574.78" x2="69.65" y2="567.34" stroke="#000" stroke-width="1" />
<line x1="68.15" y1="567.34" x2="71.15" y2="567.34" stroke="#000" stroke-width="1" />
<rect x="113" y="527.0" width="23" height="72.5" fill="#000" stroke="none" stroke-width="1"/>
<line x1="124.5" y1="527.02" x2="124.5" y2="503.5" stroke="#000" stroke-width="1" />
<line x1="123.0" y1="503.5" x2="126.0" y2="503.5" stroke="#000" stroke-width="1" />
<rect x="167.7" y="574.1" width="22.30000000000001" height="25.4" fill="#000" stroke="none" stroke-width="1"/>
<line x1="178.85" y1="574.06" x2="178.85" y2="565.66" stroke="#000" stroke-width="1" />
<line x1="177.35" y1="565.66" x2="180.35" y2="565.66" stroke="#000" stroke-width="1" />
<rect x="221.6" y="576.9" width="22.400000000000006" height="22.6" fill="#000" stroke="none" stroke-width="1"/>
<line x1="232.8" y1="576.94" x2="232.8" y2="570.7" stroke="#000" stroke-width="1" />
<line x1="231.3" y1="570.7" x2="234.3" y2="570.7" stroke="#000" stroke-width="1" />
<text x="69" y="611" font-size="9" font-weight="bold" text-anchor="middle" >No ODN</text>
<text x="123" y="611" font-size="9" font-weight="bold" text-anchor="middle" >ODN 2006</text>
<text x="177" y="611" font-size="9" font-weight="bold" text-anchor="middle" >ODN 1585</text>
<text x="231.6" y="611" font-size="9" font-weight="bold" text-anchor="middle" >ODN 2216</text>
<polyline points="68.3,494.8 68.3,489.6 122.8,489.6 122.8,494.8" fill="none" stroke="#000" stroke-width="1.25"/>
<polyline points="122.8,486 122.8,480.8 176.8,480.8 176.8,486.2" fill="none" stroke="#000" stroke-width="1.25"/>
<polyline points="122.8,476 122.8,471 229.5,471 229.5,477.5" fill="none" stroke="#000" stroke-width="1.25"/>
<text x="96.3" y="491.7" font-size="14" font-weight="bold" text-anchor="middle" >*</text>
<text x="150.4" y="473.8" font-size="14" font-weight="bold" text-anchor="middle" >*</text>
<text x="150.4" y="483.2" font-size="14" font-weight="bold" text-anchor="middle" >*</text>
<text x="287.3" y="405" font-size="24.4" font-weight="bold" text-anchor="start" >E</text>
<text x="336" y="393.5" font-size="11.4" font-weight="bold" text-anchor="start" >Melan-A<tspan font-size="7.1" dy="3.0">26-35</tspan><tspan dy="-3.0"> A27L peptide</tspan></text>
<text transform="translate(295.7,525) rotate(-90)" font-size="11.6" font-weight="bold" text-anchor="middle">Specific lysis (%)</text>
<line x1="329.5" y1="408.97999999999996" x2="329.5" y2="639.5" stroke="#000" stroke-width="1.2" />
<line x1="327.0" y1="638.8" x2="463" y2="638.8" stroke="#000" stroke-width="1.4" />
<text x="323.2" y="641.8" font-size="9" font-weight="bold" text-anchor="end" >0</text>
<text x="323.2" y="616.3" font-size="9" font-weight="bold" text-anchor="end" >10</text>
<line x1="327.0" y1="613.3199999999999" x2="329.5" y2="613.3199999999999" stroke="#000" stroke-width="1" />
<text x="323.2" y="590.8" font-size="9" font-weight="bold" text-anchor="end" >20</text>
<line x1="327.0" y1="587.8399999999999" x2="329.5" y2="587.8399999999999" stroke="#000" stroke-width="1" />
<text x="323.2" y="565.4" font-size="9" font-weight="bold" text-anchor="end" >30</text>
<line x1="327.0" y1="562.3599999999999" x2="329.5" y2="562.3599999999999" stroke="#000" stroke-width="1" />
<text x="323.2" y="539.9" font-size="9" font-weight="bold" text-anchor="end" >40</text>
<line x1="327.0" y1="536.88" x2="329.5" y2="536.88" stroke="#000" stroke-width="1" />
<text x="323.2" y="514.4" font-size="9" font-weight="bold" text-anchor="end" >50</text>
<line x1="327.0" y1="511.4" x2="329.5" y2="511.4" stroke="#000" stroke-width="1" />
<text x="323.2" y="488.9" font-size="9" font-weight="bold" text-anchor="end" >60</text>
<line x1="327.0" y1="485.91999999999996" x2="329.5" y2="485.91999999999996" stroke="#000" stroke-width="1" />
<text x="323.2" y="463.4" font-size="9" font-weight="bold" text-anchor="end" >70</text>
<line x1="327.0" y1="460.43999999999994" x2="329.5" y2="460.43999999999994" stroke="#000" stroke-width="1" />
<text x="323.2" y="438.0" font-size="9" font-weight="bold" text-anchor="end" >80</text>
<line x1="327.0" y1="434.9599999999999" x2="329.5" y2="434.9599999999999" stroke="#000" stroke-width="1" />
<text x="323.2" y="412.5" font-size="9" font-weight="bold" text-anchor="end" >90</text>
<line x1="327.0" y1="409.47999999999996" x2="329.5" y2="409.47999999999996" stroke="#000" stroke-width="1" />
<line x1="363.4" y1="435.7" x2="429.8" y2="508.1" stroke="#000" stroke-width="1.5" />
<line x1="363.4" y1="566.2" x2="429.8" y2="602.1" stroke="#000" stroke-width="1.5" />
<line x1="363.4" y1="615.6" x2="429.8" y2="638.8" stroke="#000" stroke-width="1.5" />
<line x1="363.4" y1="623.3" x2="429.8" y2="638.8" stroke="#000" stroke-width="1.5" />
<polygon points="360.4,623.3 363.4,620.3 366.4,623.3 363.4,626.3" fill="#fff" stroke="#000" stroke-width="1.3"/>
<circle cx="363.4" cy="615.6" r="3.2" fill="#fff" stroke="#000" stroke-width="1.3"/>
<circle cx="429.8" cy="638.8" r="3.0" fill="#fff" stroke="#000" stroke-width="1.3"/>
<circle cx="363.4" cy="566.2" r="2.9" fill="#000" stroke="#000" stroke-width="1.3"/>
<circle cx="429.8" cy="602.1" r="2.9" fill="#000" stroke="#000" stroke-width="1.3"/>
<polygon points="360.4,435.7 363.4,432.7 366.4,435.7 363.4,438.7" fill="#000" stroke="#000" stroke-width="1.3"/>
<polygon points="426.8,508.1 429.8,505.1 432.8,508.1 429.8,511.1" fill="#000" stroke="#000" stroke-width="1.3"/>
<text x="365" y="659" font-size="10" font-weight="bold" text-anchor="middle" >20:1</text>
<text x="436" y="659" font-size="10" font-weight="bold" text-anchor="middle" >10:1</text>
<text x="383" y="671.3" font-size="10" font-weight="bold" text-anchor="start" >E/T Ratio</text>
<circle cx="446" cy="497.8" r="3.3" fill="#000" stroke="#000" stroke-width="1.3"/>
<polygon points="443.3,513.1 446.2,510.20000000000005 449.09999999999997,513.1 446.2,516.0" fill="#000" stroke="#000" stroke-width="1.3"/>
<circle cx="446.2" cy="533.6" r="3.2" fill="#fff" stroke="#000" stroke-width="1.3"/>
<polygon points="443.0,560.4 446.2,557.1999999999999 449.4,560.4 446.2,563.6" fill="#fff" stroke="#000" stroke-width="1.3"/>
<text x="457.7" y="500.9" font-size="8.6" font-weight="bold" text-anchor="start" >No ODN</text>
<text x="459" y="516.1" font-size="8.6" font-weight="bold" text-anchor="start" >ODN 2006</text>
<text x="457.7" y="536.3" font-size="8.6" font-weight="bold" text-anchor="start" >No ODN</text>
<text x="457.5" y="546.4" font-size="8.6" font-weight="bold" text-anchor="start" >control peptide</text>
<text x="459" y="561.6" font-size="8.6" font-weight="bold" text-anchor="start" >ODN 2006</text>
<text x="457.5" y="571.8" font-size="8.6" font-weight="bold" text-anchor="start" >control peptide</text>
</svg>
</body></html>
